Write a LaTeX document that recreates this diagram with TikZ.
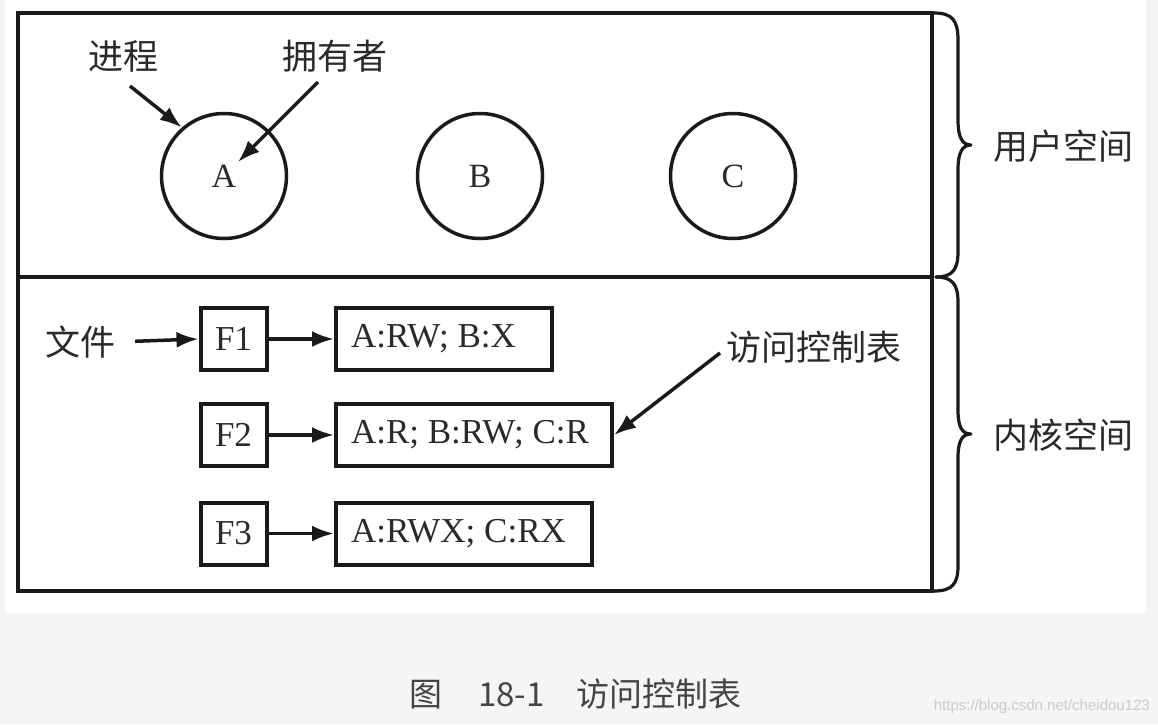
\documentclass[tikz,border=0pt]{standalone}
\usepackage{fontspec}
\setmainfont{Liberation Serif}
\newfontfamily\cjk{Noto Sans CJK SC}
\usetikzlibrary{arrows.meta}
\definecolor{pagebg}{HTML}{F5F5F5}
\definecolor{ink}{HTML}{1A1A1A}
\definecolor{txt}{HTML}{2A2A2A}
\definecolor{captxt}{HTML}{444444}
\tikzset{
  frame/.style={draw=ink, line width=3.2pt},
  proc/.style={circle, draw=ink, line width=3.5pt, minimum size=125pt, inner sep=0pt,
    font=\fontsize{34}{38}\selectfont, text=txt},
  fbox/.style={draw=ink, line width=4pt, minimum width=66pt, minimum height=62pt, inner sep=0pt,
    font=\fontsize{35}{40}\selectfont, text=txt},
  aclbox/.style={draw=ink, line width=4pt, minimum height=62pt, inner xsep=15pt, inner ysep=0pt,
    anchor=west, font=\fontsize{35}{40}\selectfont, text=txt},
  zh/.style={font=\cjk\fontsize{35}{40}\selectfont, text=txt, inner sep=0pt},
  arr/.style={draw=ink, line width=3.5pt, -{Latex[length=22pt,width=16pt]}},
  bracepath/.style={draw=ink, line width=3.2pt, line cap=round, line join=round},
}
\newcommand{\acltext}[2]{\raisebox{-3pt}{\makebox[#1][l]{#2}}}
\begin{document}
\begin{tikzpicture}[x=1pt,y=-1pt]
\useasboundingbox (0,0) rectangle (1158,724);
\fill[pagebg] (0,0) rectangle (1158,724);
\fill[white] (5,0) rectangle (1146,613);
% frame
\draw[frame] (18,13) rectangle (932,591);
\draw[frame] (18,277) -- (932,277);
% braces
\draw[bracepath] (934,13) .. controls (952,13) and (958,20) .. (958,40) -- (958,120)
  .. controls (958,137) and (962,145) .. (971,145)
  .. controls (962,145) and (958,153) .. (958,170) -- (958,252)
  .. controls (958,270) and (952,277) .. (936,277);
\draw[bracepath] (936,277) .. controls (952,277) and (958,284) .. (958,302) -- (958,410)
  .. controls (958,427) and (962,434) .. (971,434)
  .. controls (962,434) and (958,441) .. (958,458) -- (958,566)
  .. controls (958,584) and (952,591) .. (934,591);
\node[zh, anchor=west] (user) at (993,146) {用户空间};
\node[zh, anchor=west] (kern) at (993,435) {内核空间};
% processes
\node[proc] (A) at (224,176) {A};
\node[proc] (B) at (480,176) {B};
\node[proc] (C) at (733,176) {C};
\node[zh] (proc) at (123,56) {进程};
\node[zh] (own) at (335,56) {拥有者};
\coordinate (ownstart) at (318,82);
\coordinate (owntip) at (238,162);
\coordinate (procstart) at (130,86);
\draw[arr] (procstart) -- (A.131);
\draw[arr] (ownstart) -- (owntip);
% files
\node[zh] (file) at (80,342) {文件};
\node[fbox] (f1) at (233.5,339) {\raisebox{-3pt}{F1}};
\node[fbox] (f2) at (233.5,435) {\raisebox{-3pt}{F2}};
\node[fbox] (f3) at (233.5,533.5) {\raisebox{-3pt}{F3}};
\node[aclbox] (acl1) at (334,339) {\acltext{186pt}{A:RW; B:X}};
\node[aclbox] (acl2) at (334,435) {\acltext{246pt}{A:R; B:RW; C:R}};
\node[aclbox] (acl3) at (334,533.5) {\acltext{226pt}{A:RWX; C:RX}};
\draw[arr, shorten <=20pt] (file.east) -- (f1.west);
\draw[arr] (f1.east) -- (acl1.west);
\draw[arr] (f2.east) -- (acl2.west);
\draw[arr] (f3.east) -- (acl3.west);
\node[zh, anchor=west] (acl) at (726,347) {访问控制表};
\coordinate (aclstart) at (720,353);
\draw[arr] (aclstart) -- (acl2.east);
% caption
\node[font=\cjk\fontsize{33}{38}\selectfont, text=captxt, anchor=west, inner sep=0pt] (cap) at (409,694) {图\hspace{36pt}18-1\hspace{32pt}访问控制表};
\node[font=\fontspec{Liberation Sans}\fontsize{15}{17}\selectfont, text=white!80!black, anchor=east, inner sep=0pt] (wm) at (1150,707) {https://blog.csdn.net/cheidou123};
\end{tikzpicture}
\end{document}
